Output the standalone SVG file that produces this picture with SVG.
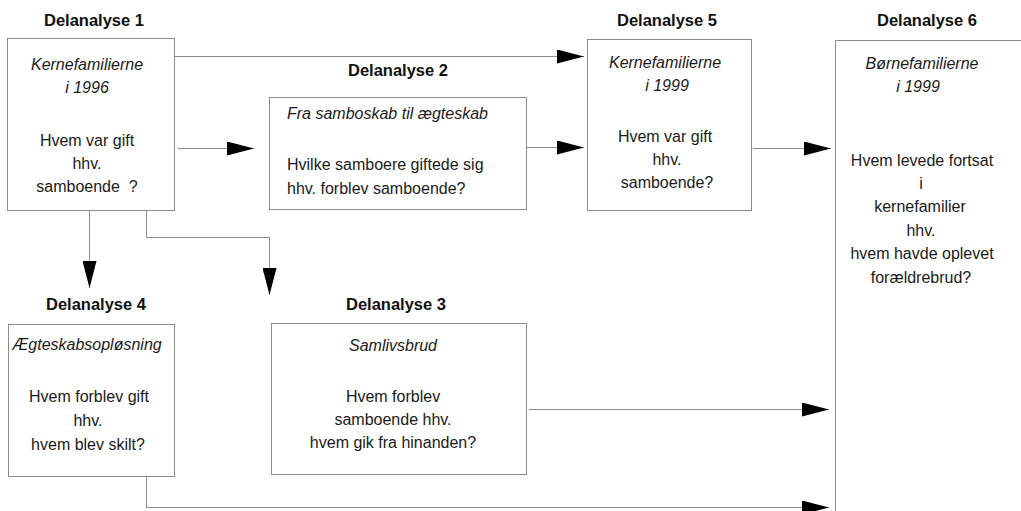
<svg xmlns="http://www.w3.org/2000/svg" width="1021" height="511" viewBox="0 0 1021 511">
<style>
.box{fill:none;stroke:#8c8c8c;stroke-width:1}
.hdr{font-family:"Liberation Sans",Arial,sans-serif;font-weight:bold;font-size:16.5px;fill:#111;text-anchor:middle}
.t{font-family:"Liberation Sans",Arial,sans-serif;font-size:16px;fill:#1a1a1a;text-anchor:middle}
.i{font-style:italic}
.l{text-anchor:start}
.pre{white-space:pre}
.con{fill:none;stroke:#8c8c8c;stroke-width:1}
</style>
<defs>
<marker id="arr" markerUnits="userSpaceOnUse" viewBox="0 0 27 14" refX="27" refY="7" markerWidth="27" markerHeight="14" orient="auto">
<path d="M0,0 L27,7 L0,14 z" fill="#000"/>
</marker>
</defs>
<rect width="1021" height="511" fill="#fff"/>

<g id="connectors">
<path class="con" d="M175,56.5 H584" marker-end="url(#arr)"/>
<path class="con" d="M178,148.5 H254" marker-end="url(#arr)"/>
<path class="con" d="M527,147.5 H584" marker-end="url(#arr)"/>
<path class="con" d="M753,148.5 H831" marker-end="url(#arr)"/>
<path class="con" d="M89.5,211 V288" marker-end="url(#arr)"/>
<path class="con" d="M146.5,211 V237.5 H269.5 V295" marker-end="url(#arr)"/>
<path class="con" d="M529,409.5 H829" marker-end="url(#arr)"/>
<path class="con" d="M146.5,476 V507.5 H829" marker-end="url(#arr)"/>
</g>

<g id="node1">
<text class="hdr" x="94" y="26">Delanalyse 1</text>
<rect class="box" x="7.5" y="38.5" width="167" height="172"/>
<text class="t i" x="87" y="70">Kernefamilierne</text>
<text class="t i" x="87" y="93">i 1996</text>
<text class="t" x="87" y="146">Hvem var gift</text>
<text class="t" x="87" y="169">hhv.</text>
<text class="t pre" x="87" y="192">samboende  ?</text>
</g>

<g id="node2">
<text class="hdr" x="398" y="76">Delanalyse 2</text>
<rect class="box" x="269.5" y="97.5" width="257" height="112"/>
<text class="t i l" x="287" y="119">Fra samboskab til ægteskab</text>
<text class="t l" x="287" y="170">Hvilke samboere giftede sig</text>
<text class="t l" x="287" y="194">hhv. forblev samboende?</text>
</g>

<g id="node3">
<text class="hdr" x="396" y="310">Delanalyse 3</text>
<rect class="box" x="271.5" y="323.5" width="255" height="151"/>
<text class="t i" x="393" y="351">Samlivsbrud</text>
<text class="t" x="393" y="402">Hvem forblev</text>
<text class="t" x="393" y="425">samboende hhv.</text>
<text class="t" x="393" y="448">hvem gik fra hinanden?</text>
</g>

<g id="node4">
<text class="hdr" x="96" y="310">Delanalyse 4</text>
<rect class="box" x="8.5" y="324.5" width="166" height="152"/>
<text class="t i" x="87" y="350">Ægteskabsopløsning</text>
<text class="t" x="89" y="402">Hvem forblev gift</text>
<text class="t" x="88" y="426">hhv.</text>
<text class="t" x="88" y="450">hvem blev skilt?</text>
</g>

<g id="node5">
<text class="hdr" x="667" y="26">Delanalyse 5</text>
<rect class="box" x="587.5" y="39.5" width="164" height="171"/>
<text class="t i" x="665" y="68">Kernefamilierne</text>
<text class="t i" x="667" y="91">i 1999</text>
<text class="t" x="665" y="142">Hvem var gift</text>
<text class="t" x="667" y="165">hhv.</text>
<text class="t" x="667" y="188">samboende?</text>
</g>

<g id="node6">
<text class="hdr" x="927" y="26">Delanalyse 6</text>
<path class="box" d="M1021,40.5 H835.5 V511"/>
<text class="t i" x="922" y="69">Børnefamilierne</text>
<text class="t i" x="918" y="92">i 1999</text>
<text class="t" x="922" y="166">Hvem levede fortsat</text>
<text class="t" x="921" y="189">i</text>
<text class="t" x="920" y="212">kernefamilier</text>
<text class="t" x="921" y="236">hhv.</text>
<text class="t" x="922" y="259">hvem havde oplevet</text>
<text class="t" x="921" y="283">forældrebrud?</text>
</g>
</svg>
